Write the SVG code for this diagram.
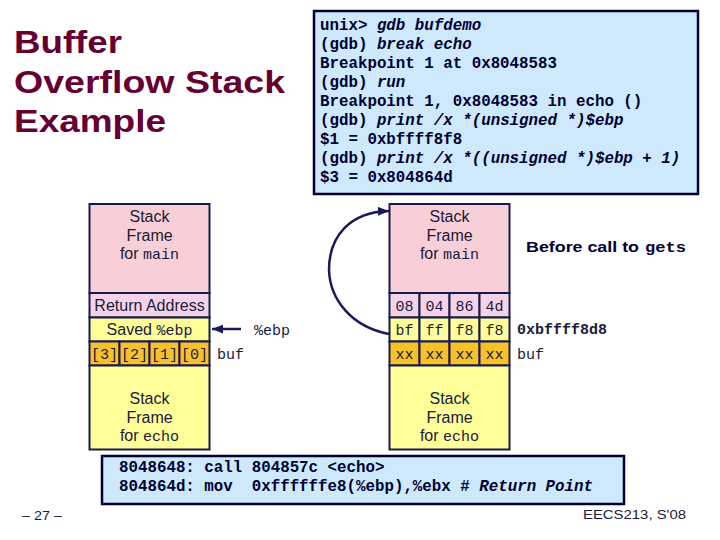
<svg xmlns="http://www.w3.org/2000/svg" width="720" height="540" viewBox="0 0 720 540">
<style>
.title{font-family:"Liberation Sans",Arial,sans-serif;font-weight:bold;font-size:31px;fill:#660033}
.code{font-family:"Liberation Mono","Courier New",monospace;font-weight:bold;font-size:15.8px;fill:#000033}
.it{font-style:italic}
.box{fill:#cde9fb;stroke:#000033;stroke-width:2.5}
.lbl{font-family:"Liberation Sans",Arial,sans-serif;font-size:16px;fill:#1a1a3a;text-anchor:middle}
.mono{font-family:"Liberation Mono","Courier New",monospace}
.cell{font-family:"Liberation Mono","Courier New",monospace;font-size:15px;fill:#1a1a3a;text-anchor:middle}
.side{font-family:"Liberation Mono","Courier New",monospace;font-size:15px;fill:#1a1a3a}
.pink{fill:#f9cfd7;stroke:#1a1a4a;stroke-width:2}
.lav{fill:#f4d3e8;stroke:#1a1a4a;stroke-width:2}
.yel{fill:#ffff99;stroke:#1a1a4a;stroke-width:2}
.org{fill:#f7c12a;stroke:#1a1a4a;stroke-width:2}
.foot{font-family:"Liberation Sans",Arial,sans-serif;font-size:13px;fill:#1a1a3a}
.conn{fill:none;stroke:#1a1a5a;stroke-width:2.5}
</style>
<defs>
<marker id="ah" viewBox="0 0 10 8" refX="10" refY="4" markerWidth="11" markerHeight="9" markerUnits="userSpaceOnUse" orient="auto">
<path d="M0,0 L10,4 L0,8 z" fill="#1a1a5a"/>
</marker>
</defs>
<rect width="720" height="540" fill="#ffffff"/>

<g id="title">
<text class="title" x="14" y="53" textLength="108" lengthAdjust="spacingAndGlyphs">Buffer</text>
<text class="title" x="14" y="93" textLength="271" lengthAdjust="spacingAndGlyphs">Overflow Stack</text>
<text class="title" x="14" y="132" textLength="152" lengthAdjust="spacingAndGlyphs">Example</text>
</g>

<g id="gdb-session">
<rect class="box" x="314" y="11" width="384" height="183"/>
<text class="code" x="320" y="30">unix&gt; <tspan class="it">gdb bufdemo</tspan></text>
<text class="code" x="320" y="49">(gdb) <tspan class="it">break echo</tspan></text>
<text class="code" x="320" y="68">Breakpoint 1 at 0x8048583</text>
<text class="code" x="320" y="87">(gdb) <tspan class="it">run</tspan></text>
<text class="code" x="320" y="106">Breakpoint 1, 0x8048583 in echo ()</text>
<text class="code" x="320" y="125">(gdb) <tspan class="it">print /x *(unsigned *)$ebp</tspan></text>
<text class="code" x="320" y="144">$1 = 0xbffff8f8</text>
<text class="code" x="320" y="163">(gdb) <tspan class="it">print /x *((unsigned *)$ebp + 1)</tspan></text>
<text class="code" x="320" y="182">$3 = 0x804864d</text>
</g>

<g id="stack-left">
<rect class="pink" x="89.5" y="204" width="120" height="89"/>
<text class="lbl" x="149.5" y="222">Stack</text>
<text class="lbl" x="149.5" y="241">Frame</text>
<text class="lbl" x="149.5" y="259">for <tspan class="mono" font-size="15px">main</tspan></text>
<rect class="lav" x="89.5" y="293" width="120" height="24.5"/>
<text class="lbl" x="149.5" y="311">Return Address</text>
<rect class="yel" x="89.5" y="317.5" width="120" height="24"/>
<text class="lbl" x="149.5" y="335">Saved <tspan class="mono" font-size="15px">%ebp</tspan></text>
<rect class="org" x="89.5" y="341.5" width="30" height="24"/>
<rect class="org" x="119.5" y="341.5" width="30" height="24"/>
<rect class="org" x="149.5" y="341.5" width="30" height="24"/>
<rect class="org" x="179.5" y="341.5" width="30" height="24"/>
<text class="cell" x="104.5" y="359">[3]</text>
<text class="cell" x="134.5" y="359">[2]</text>
<text class="cell" x="164.5" y="359">[1]</text>
<text class="cell" x="194.5" y="359">[0]</text>
<text class="side" x="217" y="359">buf</text>
<rect class="yel" x="89.5" y="365.5" width="120" height="84"/>
<text class="lbl" x="149.5" y="404">Stack</text>
<text class="lbl" x="149.5" y="423">Frame</text>
<text class="lbl" x="149.5" y="441">for <tspan class="mono" font-size="15px">echo</tspan></text>
<text class="side" x="254" y="335">%ebp</text>
</g>

<g id="stack-right">
<rect class="pink" x="389.5" y="204" width="120" height="89"/>
<text class="lbl" x="449.5" y="222">Stack</text>
<text class="lbl" x="449.5" y="241">Frame</text>
<text class="lbl" x="449.5" y="259">for <tspan class="mono" font-size="15px">main</tspan></text>
<rect class="lav" x="389.5" y="293" width="30" height="24.5"/>
<rect class="lav" x="419.5" y="293" width="30" height="24.5"/>
<rect class="lav" x="449.5" y="293" width="30" height="24.5"/>
<rect class="lav" x="479.5" y="293" width="30" height="24.5"/>
<text class="cell" x="404.5" y="311">08</text>
<text class="cell" x="434.5" y="311">04</text>
<text class="cell" x="464.5" y="311">86</text>
<text class="cell" x="494.5" y="311">4d</text>
<rect class="yel" x="389.5" y="317.5" width="30" height="24"/>
<rect class="yel" x="419.5" y="317.5" width="30" height="24"/>
<rect class="yel" x="449.5" y="317.5" width="30" height="24"/>
<rect class="yel" x="479.5" y="317.5" width="30" height="24"/>
<text class="cell" x="404.5" y="335">bf</text>
<text class="cell" x="434.5" y="335">ff</text>
<text class="cell" x="464.5" y="335">f8</text>
<text class="cell" x="494.5" y="335">f8</text>
<rect class="org" x="389.5" y="341.5" width="30" height="24"/>
<rect class="org" x="419.5" y="341.5" width="30" height="24"/>
<rect class="org" x="449.5" y="341.5" width="30" height="24"/>
<rect class="org" x="479.5" y="341.5" width="30" height="24"/>
<text class="cell" x="404.5" y="359">xx</text>
<text class="cell" x="434.5" y="359">xx</text>
<text class="cell" x="464.5" y="359">xx</text>
<text class="cell" x="494.5" y="359">xx</text>
<rect class="yel" x="389.5" y="365.5" width="120" height="84"/>
<text class="lbl" x="449.5" y="404">Stack</text>
<text class="lbl" x="449.5" y="423">Frame</text>
<text class="lbl" x="449.5" y="441">for <tspan class="mono" font-size="15px">echo</tspan></text>
<text class="side" x="517" y="334" font-weight="bold" font-size="16px" fill="#000033">0xbffff8d8</text>
<text class="side" x="517" y="359">buf</text>
</g>

<g id="caption">
<text x="526" y="252" font-family="Liberation Sans, Arial, sans-serif" font-weight="bold" font-size="15.5px" fill="#000033" textLength="113" lengthAdjust="spacingAndGlyphs">Before call to</text>
<text x="645" y="252" font-family="Liberation Mono, Courier New, monospace" font-weight="bold" font-size="15.5px" fill="#000033" textLength="41" lengthAdjust="spacingAndGlyphs">gets</text>
</g>

<g id="connectors">
<path class="conn" d="M241,329 L212,329" marker-end="url(#ah)"/>
<path class="conn" d="M389,334 C352,327 330,300 329,270 C329,236 350,212 389,211" marker-end="url(#ah)"/>
</g>

<g id="disassembly">
<rect class="box" x="102" y="456" width="522" height="48"/>
<text class="code" x="119" y="472" font-size="16px" xml:space="preserve">8048648: call 804857c &lt;echo&gt;</text>
<text class="code" x="119" y="491" font-size="16px" xml:space="preserve">804864d: mov  0xffffffe8(%ebp),%ebx # <tspan class="it">Return Point</tspan></text>
</g>

<g id="footer">
<text class="foot" x="22" y="520" textLength="40" lengthAdjust="spacingAndGlyphs">– 27 –</text>
<text class="foot" x="583" y="519" textLength="103" lengthAdjust="spacingAndGlyphs">EECS213, S'08</text>
</g>
</svg>
